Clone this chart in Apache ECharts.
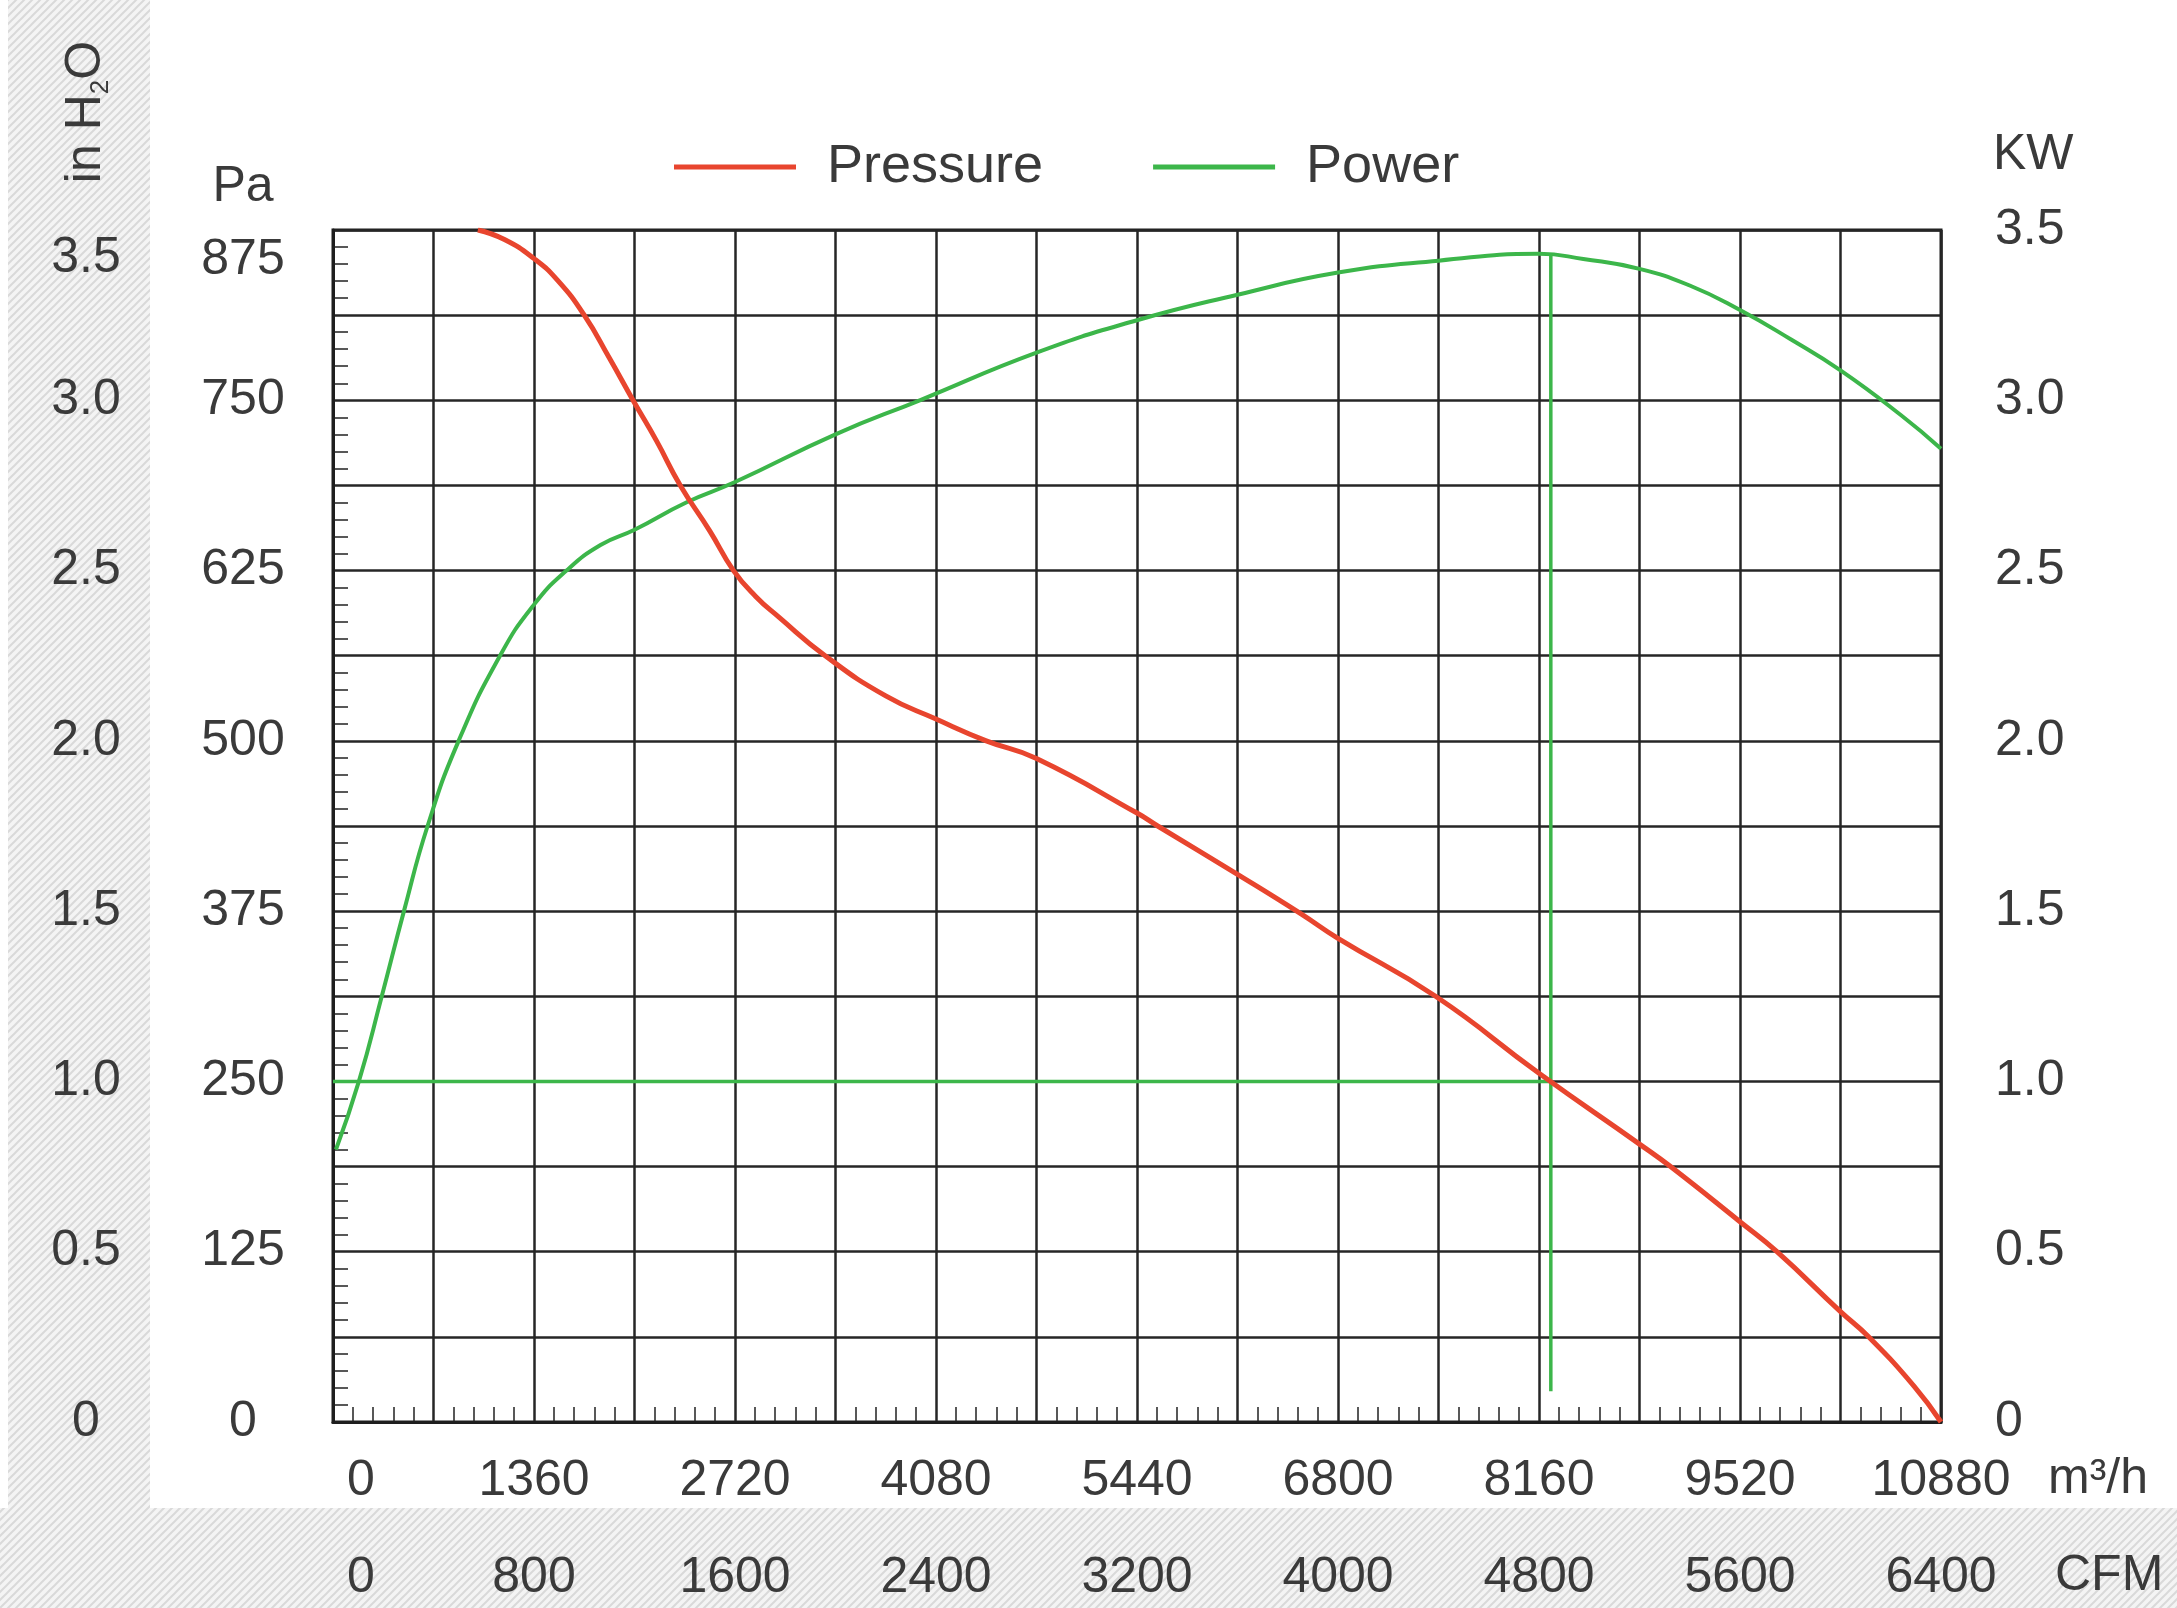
<!DOCTYPE html>
<html><head><meta charset="utf-8">
<script src="https://cdn.jsdelivr.net/npm/echarts@6/dist/echarts.min.js"></script>
<style>html,body{margin:0;padding:0;background:#fff}#c{width:2177px;height:1608px}</style>
</head><body><div id="c"></div>
<script>
// ---- data ----
const pressureFlow = [980, 1160, 1360, 1520, 1700, 1870, 2030, 2190, 2350, 2550, 2710, 2860, 3015, 3330, 3740, 4080, 4420, 4760, 5440, 5580, 6120, 6550, 6800, 7460, 8160, 8840, 9050, 9520, 9770, 10200, 10390, 10700, 10880];
const pressurePa   = [875, 868, 854, 838, 812.5, 781, 750, 720, 687.5, 654, 625, 606, 591, 562.5, 533, 516, 500, 487, 447, 437.5, 402, 373, 355, 312.5, 256, 204, 187.5, 147, 125, 81, 62.5, 26, 0];
const powerFlow = [20, 175, 330, 480, 640, 850, 1130, 1360, 1580, 1810, 2040, 2390, 2720, 3400, 3970, 4760, 5440, 6120, 6800, 7480, 8160, 8460, 8840, 9180, 9520, 9860, 10200, 10610, 10880];
const powerKW   = [0.80, 1.0, 1.25, 1.5, 1.75, 2.0, 2.25, 2.40, 2.5, 2.575, 2.62, 2.70, 2.76, 2.90, 3.0, 3.14, 3.235, 3.31, 3.375, 3.41, 3.43, 3.415, 3.386, 3.337, 3.265, 3.18, 3.088, 2.956, 2.858];
const dutyFlow = 8240;
const dutyPressure = 250;
const dutyPowerTop = 3.43;
const dutyPowerBottom = 0.09;
// axis ranges / ticks
const flowMax = 10880, flowStep = 680, flowLabelStep = 1360;
const cfmMax = 6400, cfmStep = 800;
const paMax = 875, paStep = 62.5, paLabelStep = 125;
const kwMax = 3.5, kwStep = 0.25, kwLabelStep = 0.5;
const inH2OMax = 3.5;

const FONT = '"Liberation Sans", Arial, Helvetica, sans-serif';
const TXT = '#3a3a3a';
const FS = 50;
const LFS = 54;
const RED = '#e8452e';
const GREEN = '#3cb64a';
const GRIDC = '#262626';

function pairs(xs, ys) { return xs.map((x, i) => [x, ys[i]]); }
function isMult(v, step) { return Math.abs(v / step - Math.round(v / step)) < 1e-6; }

// hatch pattern for the scanned paper strips
const pc = document.createElement('canvas');
pc.width = 8; pc.height = 8;
const g = pc.getContext('2d');
g.fillStyle = '#f4f4f4'; g.fillRect(0, 0, 8, 8);
g.strokeStyle = '#d9d9d9'; g.lineWidth = 2;
g.beginPath(); g.moveTo(0, 8); g.lineTo(8, 0); g.moveTo(-4, 4); g.lineTo(4, -4); g.moveTo(4, 12); g.lineTo(12, 4); g.stroke();

const chart = echarts.init(document.getElementById('c'), null, { renderer: 'canvas' });

const labelBase = { fontFamily: FONT, fontSize: FS, color: TXT };

const option = {
  animation: false,
  backgroundColor: '#fff',
  grid: { left: 333, right: 236, top: 230, bottom: 186, show: true, borderColor: '#1e1e1e', borderWidth: 3, outerBoundsMode: 'none' },
  legend: {
    top: 135, left: 669, itemWidth: 122, itemHeight: 5, itemGap: 110, icon: 'rect',
    textStyle: { fontFamily: FONT, fontSize: LFS, color: TXT, padding: [0, 0, 0, 26] },
    data: ['Pressure', 'Power']
  },
  xAxis: [
    {
      type: 'value', min: 0, max: flowMax, interval: flowStep, position: 'bottom',
      axisLine: { show: true, lineStyle: { color: '#1e1e1e', width: 3 } },
      axisTick: { show: false, inside: true },
      minorTick: { show: true, splitNumber: 5, length: 15, lineStyle: { color: '#222', width: 1.5 } },
      splitLine: { show: true, lineStyle: { color: GRIDC, width: 2.5 } },
      axisLabel: Object.assign({}, labelBase, {
        margin: 34,
        formatter: v => isMult(v, flowLabelStep) ? (v === 0 ? '{z|0}' : String(v)) : '',
        rich: { z: Object.assign({}, labelBase, { padding: [0, 0, 0, 56] }) }
      })
    },
    {
      type: 'value', min: 0, max: cfmMax, interval: cfmStep, position: 'bottom', offset: 97,
      axisLine: { show: false }, axisTick: { show: false }, splitLine: { show: false },
      axisLabel: Object.assign({}, labelBase, {
        margin: 34,
        formatter: v => v === 0 ? '{z|0}' : String(v),
        rich: { z: Object.assign({}, labelBase, { padding: [0, 0, 0, 56] }) }
      })
    }
  ],
  yAxis: [
    {
      type: 'value', min: 0, max: paMax, interval: paStep, position: 'left',
      axisLine: { show: true, lineStyle: { color: '#1e1e1e', width: 3 } },
      axisTick: { show: false, inside: true },
      minorTick: { show: true, splitNumber: 5, length: 15, lineStyle: { color: '#222', width: 1.5 } },
      splitLine: { show: true, lineStyle: { color: GRIDC, width: 2.5 } },
      axisLabel: Object.assign({}, labelBase, {
        margin: 90, align: 'center',
        formatter: v => isMult(v, paLabelStep) ? (v === paMax ? '{t|' + v + '}' : String(v)) : '',
        rich: { t: Object.assign({}, labelBase, { padding: [60, 0, 0, 0] }) }
      })
    },
    {
      type: 'value', min: 0, max: kwMax, interval: kwStep, position: 'right',
      axisLine: { show: false }, axisTick: { show: false }, splitLine: { show: false },
      axisLabel: Object.assign({}, labelBase, {
        margin: 54, align: 'left',
        formatter: v => isMult(v, kwLabelStep) ? (v === 0 ? '0' : v.toFixed(1)) : ''
      })
    },
    {
      type: 'value', min: 0, max: inH2OMax, interval: kwStep, position: 'left',
      axisLine: { show: false }, axisTick: { show: false }, splitLine: { show: false },
      axisLabel: Object.assign({}, labelBase, {
        margin: 247, align: 'center',
        formatter: v => isMult(v, kwLabelStep) ? (v === 0 ? '0' : (v === inH2OMax ? '{t|' + v.toFixed(1) + '}' : v.toFixed(1))) : '',
        rich: { t: Object.assign({}, labelBase, { padding: [56, 0, 0, 0] }) }
      })
    }
  ],
  series: [
    {
      name: 'Pressure', type: 'line', xAxisIndex: 0, yAxisIndex: 0,
      data: pairs(pressureFlow, pressurePa), showSymbol: false, smooth: 0.5,
      lineStyle: { color: RED, width: 5 }, itemStyle: { color: RED }, z: 4
    },
    {
      name: 'Power', type: 'line', xAxisIndex: 0, yAxisIndex: 1,
      data: pairs(powerFlow, powerKW), showSymbol: false, smooth: 0.5,
      lineStyle: { color: GREEN, width: 4 }, itemStyle: { color: GREEN }, z: 3
    },
    {
      name: 'dutyPressure', type: 'line', xAxisIndex: 0, yAxisIndex: 0,
      data: [[0, dutyPressure], [dutyFlow, dutyPressure]], showSymbol: false,
      lineStyle: { color: GREEN, width: 3.5 }, z: 3
    },
    {
      name: 'dutyPower', type: 'line', xAxisIndex: 0, yAxisIndex: 1,
      data: [[dutyFlow, dutyPowerTop], [dutyFlow, dutyPowerBottom]], showSymbol: false,
      lineStyle: { color: GREEN, width: 3.5 }, z: 3
    }
  ],
  graphic: [
    { type: 'rect', z: -100, silent: true, shape: { x: 8, y: 0, width: 142, height: 1608 }, style: { fill: { image: pc, repeat: 'repeat' } } },
    { type: 'rect', z: -100, silent: true, shape: { x: 0, y: 1508, width: 2177, height: 100 }, style: { fill: { image: pc, repeat: 'repeat' } } },
    {
      type: 'text', x: 86, y: 112, rotation: Math.PI / 2, z: 10,
      style: {
        text: '{a|in H}{s|2}{a|O}', align: 'center', verticalAlign: 'middle',
        rich: {
          a: { fontFamily: FONT, fontSize: FS, fill: TXT, lineHeight: 56 },
          s: { fontFamily: FONT, fontSize: 26, fill: TXT, lineHeight: 56, verticalAlign: 'bottom' }
        }
      }
    },
    { type: 'text', x: 243, y: 187, z: 10, style: { text: 'Pa', fontFamily: FONT, fontSize: FS, fill: TXT, align: 'center', verticalAlign: 'middle' } },
    { type: 'text', x: 1993, y: 155, z: 10, style: { text: 'KW', fontFamily: FONT, fontSize: FS, fill: TXT, align: 'left', verticalAlign: 'middle' } },
    { type: 'text', x: 2048, y: 1479, z: 10, style: { text: 'm³/h', fontFamily: FONT, fontSize: FS, fill: TXT, align: 'left', verticalAlign: 'middle' } },
    { type: 'text', x: 2055, y: 1576, z: 10, style: { text: 'CFM', fontFamily: FONT, fontSize: FS, fill: TXT, align: 'left', verticalAlign: 'middle' } }
  ]
};
chart.setOption(option);
</script>
</body></html>
